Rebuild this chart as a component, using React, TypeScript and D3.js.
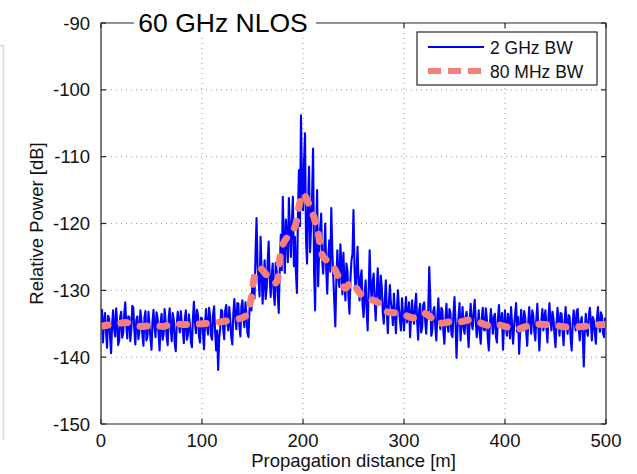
import React from "react";
import * as d3 from "d3";

// ---- data ----
const title = "60 GHz NLOS";
const xLabel = "Propagation distance [m]";
const yLabel = "Relative Power [dB]";
const seriesNames = ["2 GHz BW", "80 MHz BW"];
const xTicks = [0, 100, 200, 300, 400, 500];
const yTicks = [-150, -140, -130, -120, -110, -100, -90];

// 2 GHz BW trace, one sample per metre from 0 m to 500 m
const blueStepM = 1;
const blueValues = [
  -135.5, -132.9, -137.8, -134.6, -133.4, -136.2, -138.6, -133.8, -134.2, -137.0, -139.4, -135.1, -133.0, -135.8, -136.9, -132.7, -134.8, -138.2, -137.5, -134.0,
  -133.2, -137.1, -136.4, -133.5, -131.8, -135.0, -137.2, -133.9, -134.0, -137.6, -135.9, -132.3, -132.6, -136.0, -138.1, -134.4, -133.9, -137.3, -136.2, -133.0,
  -134.5, -136.7, -138.3, -134.0, -133.1, -137.5, -136.8, -133.2, -135.2, -137.2, -138.9, -134.6, -132.9, -135.5, -137.0, -133.3, -134.1, -136.4, -139.0, -134.8,
  -133.5, -137.4, -136.5, -132.8, -134.7, -136.9, -138.2, -134.1, -132.7, -135.6, -137.6, -133.4, -134.3, -137.9, -139.1, -135.0, -133.2, -134.9, -136.3, -133.1,
  -134.9, -136.1, -137.9, -134.3, -133.0, -137.4, -136.7, -133.6, -135.1, -137.7, -138.5, -134.2, -131.7, -134.7, -136.4, -132.9, -133.6, -136.9, -137.8, -134.1,
  -134.2, -136.5, -138.8, -134.9, -132.8, -135.4, -136.6, -132.6, -133.9, -136.8, -137.4, -133.5, -132.4, -136.2, -139.0, -136.0, -141.9, -137.2, -135.7, -132.9,
  -133.1, -135.9, -137.3, -133.0, -132.2, -134.8, -136.0, -132.5, -134.4, -137.0, -138.1, -133.6, -131.3, -134.1, -135.8, -131.9, -132.0, -135.2, -136.9, -132.4,
  -131.5, -134.2, -135.5, -131.8, -133.6, -136.4, -137.0, -133.1, -130.6, -133.0, -127.8, -129.6, -131.2, -124.5, -119.2, -126.3, -128.5, -130.9, -122.0, -127.0,
  -132.0, -128.4, -125.5, -131.3, -129.8, -125.8, -122.7, -128.0, -131.0, -127.9, -126.0, -130.4, -132.2, -125.9, -127.2, -130.8, -133.4, -126.5, -121.7, -127.0,
  -116.0, -123.2, -127.4, -119.4, -121.5, -125.8, -116.2, -120.9, -125.0, -119.7, -116.0, -126.4, -122.0, -127.3, -130.4, -118.5, -112.0, -120.4, -103.8, -114.0,
  -118.0, -110.8, -106.5, -122.5, -126.0, -117.2, -111.5, -124.3, -120.5, -115.9, -108.8, -127.6, -133.0, -121.0, -115.0, -129.4, -124.0, -120.8, -118.5, -125.6,
  -127.5, -124.0, -120.0, -126.9, -130.5, -125.3, -122.5, -127.2, -117.7, -123.9, -128.0, -131.8, -135.4, -128.6, -124.0, -127.9, -129.5, -123.1, -126.0, -130.6,
  -124.4, -128.8, -131.5, -126.0, -127.0, -130.9, -133.5, -128.3, -125.5, -124.6, -118.0, -126.7, -130.0, -127.1, -123.5, -128.9, -131.5, -128.0, -127.0, -132.3,
  -134.0, -130.6, -128.5, -132.9, -136.0, -130.2, -124.0, -129.4, -131.5, -128.6, -127.5, -131.9, -134.5, -130.1, -126.7, -130.8, -132.0, -127.8, -129.5, -133.3,
  -135.0, -131.4, -128.5, -133.2, -136.4, -132.0, -129.2, -131.8, -133.0, -135.2, -130.5, -133.6, -136.4, -132.7, -130.0, -132.6, -134.5, -136.0, -131.2, -133.5,
  -136.0, -133.2, -131.0, -134.8, -133.5, -131.8, -137.0, -134.1, -131.5, -133.9, -135.0, -132.3, -130.5, -134.6, -137.4, -133.0, -132.0, -136.3, -135.5, -132.2,
  -131.8, -134.6, -136.5, -133.4, -133.0, -126.5, -131.0, -136.8, -136.0, -133.1, -132.5, -135.4, -137.5, -133.8, -131.2, -134.3, -135.8, -132.6, -133.0, -136.2,
  -138.0, -134.4, -132.0, -135.2, -136.2, -132.8, -133.5, -136.6, -137.0, -133.4, -131.0, -134.7, -140.1, -135.6, -134.0, -131.9, -137.5, -134.8, -132.5, -135.7,
  -136.5, -133.9, -133.2, -136.1, -138.5, -134.6, -132.0, -134.9, -135.8, -133.1, -131.4, -134.5, -137.0, -135.3, -133.0, -136.4, -138.0, -134.2, -132.6, -135.9,
  -136.0, -132.7, -134.2, -137.3, -139.0, -135.1, -132.8, -134.4, -136.5, -134.0, -133.5, -136.9, -137.8, -134.2, -132.2, -135.0, -135.5, -133.4, -138.9, -135.3,
  -133.0, -135.7, -136.8, -133.5, -134.5, -137.2, -132.5, -135.1, -138.0, -135.4, -133.6, -131.9, -136.2, -134.0, -139.5, -136.3, -132.9, -135.2, -136.0, -133.1,
  -134.0, -136.2, -138.3, -134.9, -132.5, -135.0, -136.5, -133.0, -133.8, -136.1, -137.5, -134.4, -132.0, -135.3, -139.0, -135.8, -134.5, -132.8, -136.0, -134.0,
  -133.0, -135.6, -137.8, -134.1, -131.9, -134.5, -136.0, -133.2, -134.2, -136.7, -138.5, -135.0, -132.6, -134.6, -136.8, -133.4, -133.5, -136.1, -138.2, -134.7,
  -132.5, -135.4, -136.5, -133.7, -134.0, -137.2, -139.0, -135.1, -133.0, -134.8, -136.0, -133.1, -132.8, -135.7, -137.5, -134.6, -134.0, -136.9, -141.4, -136.0,
  -133.5, -135.9, -136.8, -133.8, -132.6, -134.7, -137.5, -134.0, -134.5, -136.6, -138.0, -134.3, -132.5, -135.0, -136.2, -133.3, -133.8, -136.4, -137.0, -134.2,
  -134.5,
];

// 80 MHz BW trace
const redDistances = [
  0, 10, 20, 25, 32, 42, 52, 62, 70, 81, 90, 100, 115, 131, 140, 144, 149, 152,
  157, 164, 173, 179, 187, 192, 196, 200, 205, 210, 215, 220, 228, 237, 242, 248,
  256, 263, 273, 283, 296, 309, 319, 327, 332, 346, 356, 367, 382, 395, 411, 428,
  448, 461, 477, 497, 500,
];
const redValues = [
  -135.4, -135.1, -134.9, -134.8, -135.2, -135.4, -135.2, -135.4, -135.0, -135.1,
  -135.1, -135.0, -134.8, -134.4, -134.1, -133.7, -131.0, -128.0, -126.7, -127.7,
  -128.9, -123.5, -121.5, -120.5, -117.5, -115.5, -116.8, -118.7, -121.4, -125.0,
  -126.0, -128.5, -129.7, -128.7, -130.4, -131.2, -131.7, -133.2, -133.4, -134.1,
  -133.4, -134.1, -134.9, -134.7, -134.7, -134.4, -135.2, -135.2, -135.8, -135.1,
  -135.2, -135.5, -135.4, -135.1, -135.1,
];

// ---- layout ----
const W = 637;
const H = 474;
const plot = { left: 101, right: 606, top: 23, bottom: 424 };
const font = "Arial, 'Liberation Sans', Helvetica, sans-serif";
const axisColor = "#262626";
const gridColor = "#9a9a9a";
const blue = "#0000ff";
const salmon = "#f5807a";

export default function App() {
  const x = d3.scaleLinear().domain([0, 500]).range([plot.left, plot.right]);
  const y = d3.scaleLinear().domain([-150, -90]).range([plot.bottom, plot.top]);

  const bluePts: [number, number][] = blueValues.map((v, i) => [i * blueStepM, v]);
  const redPts: [number, number][] = redDistances.map((d, i) => [d, redValues[i]]);

  const blueLine = d3
    .line<[number, number]>()
    .x((d) => x(d[0]))
    .y((d) => y(d[1]))(bluePts) as string;
  const redLine = d3
    .line<[number, number]>()
    .x((d) => x(d[0]))
    .y((d) => y(d[1]))
    .curve(d3.curveCatmullRom.alpha(0.5))(redPts) as string;

  const tickLen = 5;
  const titleLeft = 134;
  const titleRight = 316;

  const legend = { x: 417, y: 32, w: 180, h: 53 };

  return (
    <svg
      width={W}
      height={H}
      style={{ position: "absolute", left: 0, top: 0, background: "#fff" }}
      fontFamily={font}
    >
      <rect x={0} y={0} width={W} height={H} fill="#fff" />
      {/* faint left border artifact */}
      <path d="M0,45.5 H3.5 V440" fill="none" stroke="#d9d9d9" strokeWidth={1.5} />

      <defs>
        <clipPath id="plotClip">
          <rect x={plot.left} y={plot.top} width={plot.right - plot.left} height={plot.bottom - plot.top} />
        </clipPath>
      </defs>

      {/* grid */}
      <g stroke={gridColor} strokeWidth={1} strokeDasharray="1,4">
        {xTicks.slice(1, -1).map((t) => (
          <line key={"gx" + t} x1={x(t)} x2={x(t)} y1={plot.top} y2={plot.bottom} />
        ))}
        {yTicks.slice(1, -1).map((t) => (
          <line key={"gy" + t} x1={plot.left} x2={plot.right} y1={y(t)} y2={y(t)} />
        ))}
      </g>

      {/* data */}
      <g clipPath="url(#plotClip)">
        <path d={blueLine} fill="none" stroke={blue} strokeWidth={2.1} strokeLinejoin="round" />
        <path
          d={redLine}
          fill="none"
          stroke={salmon}
          strokeWidth={7}
          strokeDasharray="7,13"
          strokeLinecap="round"
          strokeLinejoin="round"
        />
      </g>

      {/* axes box */}
      <g stroke={axisColor} strokeWidth={1.2} fill="none">
        <line x1={plot.left} x2={plot.right} y1={plot.bottom} y2={plot.bottom} />
        <line x1={plot.left} x2={plot.left} y1={plot.top} y2={plot.bottom} />
        <line x1={plot.right} x2={plot.right} y1={plot.top} y2={plot.bottom} />
        <line x1={plot.left} x2={plot.right} y1={plot.top} y2={plot.top} />
        {xTicks.map((t) => (
          <g key={"tx" + t}>
            <line x1={x(t)} x2={x(t)} y1={plot.bottom} y2={plot.bottom - tickLen} />
            <line x1={x(t)} x2={x(t)} y1={plot.top} y2={plot.top + tickLen} />
          </g>
        ))}
        {yTicks.map((t) => (
          <g key={"ty" + t}>
            <line x1={plot.left} x2={plot.left + tickLen} y1={y(t)} y2={y(t)} />
            <line x1={plot.right} x2={plot.right - tickLen} y1={y(t)} y2={y(t)} />
          </g>
        ))}
      </g>

      {/* tick labels */}
      <g fontSize={18.5} fill="#111">
        {xTicks.map((t) => (
          <text key={"lx" + t} x={x(t)} y={447} textAnchor="middle">
            {t}
          </text>
        ))}
        {yTicks.map((t) => (
          <text key={"ly" + t} x={90} y={y(t) + 6.5} textAnchor="end">
            {t}
          </text>
        ))}
      </g>

      {/* axis labels */}
      <text x={(plot.left + plot.right) / 2} y={467} textAnchor="middle" fontSize={18.5} fill="#111">
        {xLabel}
      </text>
      <text
        transform={`translate(43, ${(plot.top + plot.bottom) / 2}) rotate(-90)`}
        textAnchor="middle"
        fontSize={18.5}
        fill="#111"
      >
        {yLabel}
      </text>

      {/* title over the top border */}
      <rect x={titleLeft} y={8} width={titleRight - titleLeft} height={30} fill="#fff" />
      <text x={(titleLeft + titleRight) / 2 - 2} y={32} textAnchor="middle" fontSize={26.5} fill="#000">
        {title}
      </text>

      {/* legend */}
      <g>
        <rect x={legend.x} y={legend.y} width={legend.w} height={legend.h} fill="#fff" stroke={axisColor} strokeWidth={1.2} />
        <line x1={428} x2={484} y1={47} y2={47} stroke={blue} strokeWidth={1.8} />
        <text x={490} y={54} fontSize={17.5} fill="#111">
          {seriesNames[0]}
        </text>
        <line x1={428} x2={484} y1={71} y2={71} stroke={salmon} strokeWidth={6} strokeDasharray="13,7" />
        <text x={490} y={78} fontSize={17.5} fill="#111">
          {seriesNames[1]}
        </text>
      </g>
    </svg>
  );
}
